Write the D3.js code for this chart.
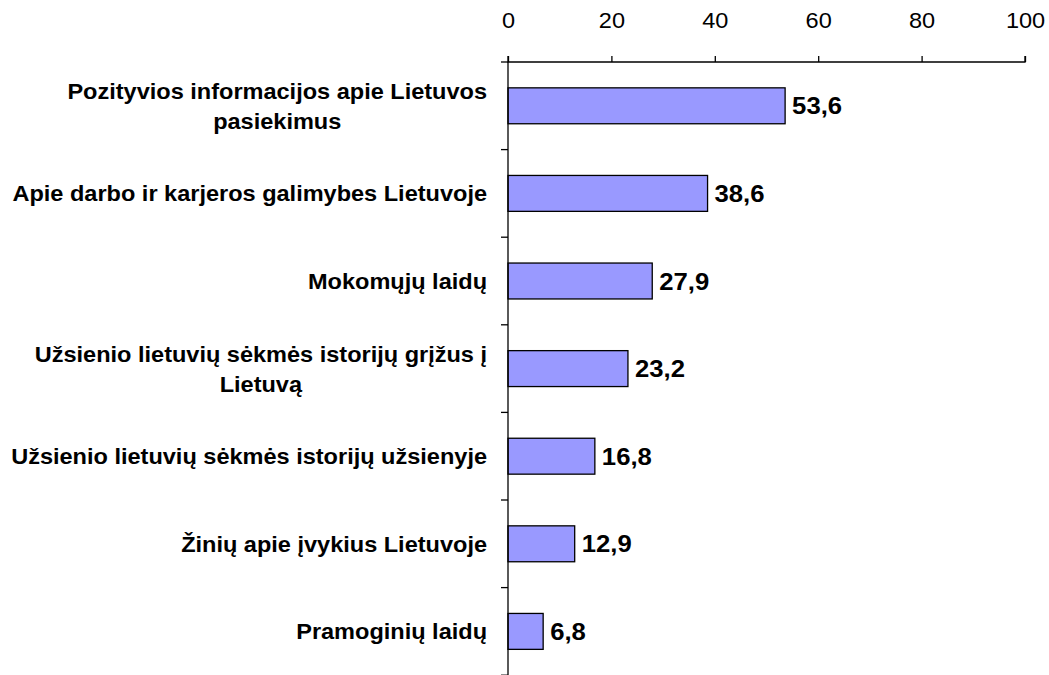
<!DOCTYPE html>
<html>
<head>
<meta charset="utf-8">
<script src="https://cdn.jsdelivr.net/npm/d3@7"></script>
<style>
  body { margin: 0; background: #fff; }
  text { font-family: "Liberation Sans", Arial, sans-serif; }
</style>
</head>
<body>
<svg id="chart"></svg>
<script>
// categories, top to bottom (line breaks as in the original)
let categories = [
    "Pozityvios informacijos apie Lietuvos\npasiekimus",
    "Apie darbo ir karjeros galimybes Lietuvoje",
    "Mokomųjų laidų",
    "Užsienio lietuvių sėkmės istorijų grįžus į\nLietuvą",
    "Užsienio lietuvių sėkmės istorijų užsienyje",
    "Žinių apie įvykius Lietuvoje",
    "Pramoginių laidų"
];
let values = [53.6, 38.6, 27.9, 23.2, 16.8, 12.9, 6.8];
let xTicks = [0, 20, 40, 60, 80, 100];

let width = 1049, height = 675;
let margin = { top: 62, left: 508, right: 24, bottom: 0 };
// the original text is slightly wider than it is tall
let stretch = "scale(1.07,1)";

let svg = d3.select("#chart")
    .attr("width", width)
    .attr("height", height);

let x = d3.scaleLinear()
    .domain([0, 100])
    .range([margin.left, width - margin.right]);

let y = d3.scaleBand()
    .domain(categories)
    .range([margin.top, margin.top + 7 * 87.6])
    .paddingInner(0.59)
    .paddingOuter(0.295);

// bars
svg.selectAll(".bar")
    .data(values)
    .enter()
    .append("rect")
    .attr("class", "bar")
    .attr("x", x(0))
    .attr("y", (d, i) => y(categories[i]))
    .attr("width", d => x(d) - x(0))
    .attr("height", y.bandwidth())
    .attr("fill", "#9999ff")
    .attr("stroke", "#000")
    .attr("stroke-width", 1.3);

// value labels
svg.selectAll(".val")
    .data(values)
    .enter()
    .append("text")
    .attr("class", "val")
    .attr("transform", (d, i) => "translate(" + (x(d) + 7) + "," + (y(categories[i]) + y.bandwidth() / 2) + ")" + stretch)
    .attr("dy", "0.36em")
    .attr("font-size", 24)
    .attr("font-weight", "bold")
    .text(d => d3.format(".1f")(d).replace(".", ","));

// top axis
let xAxis = d3.axisTop(x)
    .tickValues(xTicks)
    .tickSize(6)
    .tickPadding(28)
    .tickFormat(d3.format("d"));

let gx = svg.append("g")
    .attr("transform", "translate(0," + margin.top + ")")
    .call(xAxis);
gx.select(".domain").attr("d", "M" + x(0) + ",-6V0H" + x(100) + "V-6");
gx.selectAll("line, path").attr("stroke", "#000").attr("stroke-width", 1.3);
gx.selectAll("text")
    .attr("font-size", 22)
    .attr("font-family", "Liberation Sans, Arial, sans-serif")
    .attr("fill", "#000")
    .attr("transform", stretch);

// left axis: line plus ticks at band boundaries
let bounds = d3.range(categories.length + 1).map(i => margin.top + i * y.step());
svg.append("line")
    .attr("x1", x(0)).attr("x2", x(0))
    .attr("y1", margin.top).attr("y2", height)
    .attr("stroke", "#000").attr("stroke-width", 1.3);
svg.selectAll(".ytick")
    .data(bounds)
    .enter()
    .append("line")
    .attr("class", "ytick")
    .attr("x1", x(0) - 7).attr("x2", x(0))
    .attr("y1", d => d).attr("y2", d => d)
    .attr("stroke", "#000").attr("stroke-width", 1.3);

// category labels: block right-aligned, lines centred within it
let labelRight = 487;
let lineGap = 30;
categories.forEach(function (c, i) {
    let lines = c.split("\n");
    let cy = y(c) + y.bandwidth() / 2;
    let g = svg.append("g")
        .attr("transform", "translate(" + labelRight + ",0)" + stretch);
    let texts = lines.map(function (l, j) {
        return g.append("text")
            .attr("y", cy + (j - (lines.length - 1) / 2) * lineGap)
            .attr("dy", "0.36em")
            .attr("font-size", 22)
            .attr("font-weight", "bold")
            .attr("text-anchor", "middle")
            .text(l);
    });
    let w = d3.max(texts, t => t.node().getComputedTextLength());
    texts.forEach(t => t.attr("x", -w / 2));
});
</script>
</body>
</html>
